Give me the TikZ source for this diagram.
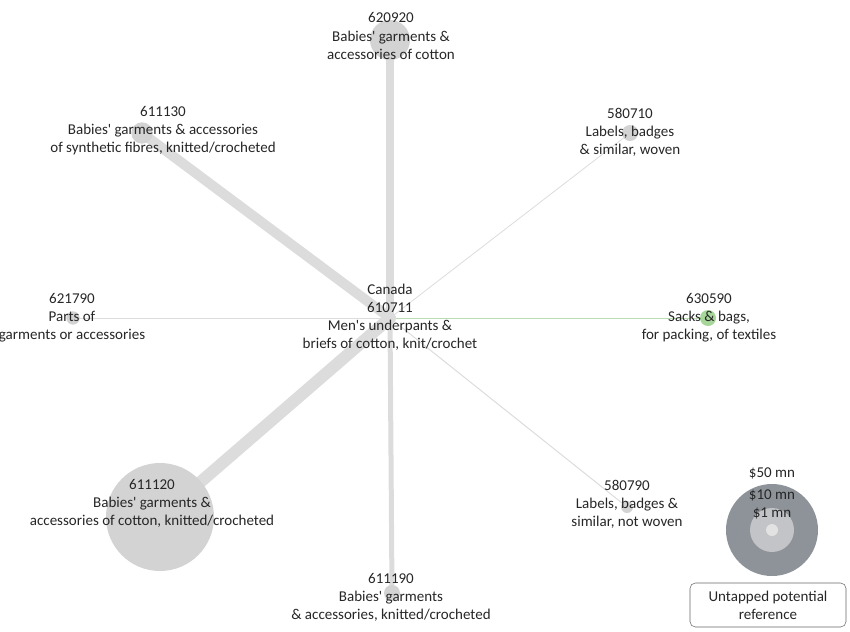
\documentclass[tikz,border=0pt]{standalone}
\usepackage{fontspec}
\setmainfont{Carlito}[Ligatures=TeXOff]
\usepackage{tikz}

\pgfdeclarelayer{back}
\pgfsetlayers{back,main}

\definecolor{spokegray}{HTML}{DCDCDC}
\definecolor{bubgray}{HTML}{D3D3D3}
\definecolor{spokegreen}{HTML}{B9DDB0}
\definecolor{bubgreen}{HTML}{A6D69A}
\definecolor{legdark}{HTML}{8E9399}
\definecolor{legmid}{HTML}{C2C4C7}
\definecolor{leglight}{HTML}{E2E2E2}

\tikzset{
  bub/.style={circle, fill=bubgray, inner sep=0pt},
  spoke/.style={draw=spokegray, line cap=round},
  lbl/.style={align=center, inner sep=0pt, text=black!85, font=\fontsize{11.3}{13.6}\selectfont},
}

\begin{document}
\begin{tikzpicture}[x=0.75bp, y=-0.75bp]
    \useasboundingbox (0,0) rectangle (850,632);

    % Bubbles
    \coordinate (hub) at (390,318);
    \node[bub, minimum size=30bp] (c620920) at (390,40) {};
    \node[bub, minimum size=16bp] (c611130) at (142,133) {};
    \node[bub, minimum size=12bp] (c580710) at (630,133) {};
    \node[bub, minimum size=10bp] (c621790) at (73,318) {};
    \node[bub, fill=bubgreen, minimum size=12bp] (c630590) at (708,318) {};
    \node[bub, minimum size=9bp] (c580790) at (627,507) {};
    \node[bub, minimum size=81bp] (c611120) at (160,517) {};
    \node[bub, minimum size=12bp] (c611190) at (392,593) {};

    % Spokes
    \begin{pgfonlayer}{back}
    \draw[spoke, line width=6bp] (hub) -- (c620920.center);
    \draw[spoke, line width=7.5bp] (hub) -- (c611130.center);
    \draw[spoke, line width=0.6bp] (hub) -- (c580710.center);
    \draw[spoke, line width=0.6bp] (hub) -- (c621790.center);
    \draw[spoke, draw=spokegreen, line width=0.75bp] (hub) -- (c630590.center);
    \draw[spoke, line width=0.75bp] (hub) -- (c580790.center);
    \draw[spoke, line width=9bp] (hub) -- (c611120.center);
    \draw[spoke, line width=3.75bp] (hub) -- (c611190.center);
    \end{pgfonlayer}

    % Labels
    \node[lbl] (hubtext) at (390,317) {Canada\\610711\\Men's underpants \&\\briefs of cotton, knit/crochet};
    \node[lbl] (t620920) at (391,36) {620920\\Babies' garments \&\\accessories of cotton};
    \node[lbl] (t611130) at (163,131) {611130\\Babies' garments \& accessories\\of synthetic fibres, knitted/crocheted};
    \node[lbl] (t580710) at (630,132) {580710\\Labels, badges\\\& similar, woven};
    \node[lbl] (t621790) at (72,318) {621790\\Parts of\\garments or accessories};
    \node[lbl] (t630590) at (709,318) {630590\\Sacks \& bags,\\for packing, of textiles};
    \node[lbl] (t580790) at (627,504) {580790\\Labels, badges \&\\similar, not woven};
    \node[lbl] (t611120) at (152,503) {611120\\Babies' garments \&\\accessories of cotton, knitted/crocheted};
    \node[lbl] (t611190) at (391,597) {611190\\Babies' garments\\\& accessories, knitted/crocheted};

    % Legend
    \node[circle, fill=legdark, inner sep=0pt, minimum size=69bp] (l50) at (772,530) {};
    \node[circle, fill=legmid, inner sep=0pt, minimum size=33bp] (l10) at (772,530) {};
    \node[circle, fill=leglight, inner sep=0pt, minimum size=9bp] (l1) at (772,530) {};
    \node[lbl] at (772,473) {\$50 mn};
    \node[lbl] at (772,495) {\$10 mn};
    \node[lbl] at (772,513) {\$1 mn};
    \node[lbl, draw=black!60, rounded corners=4bp, minimum width=117bp, minimum height=33bp] (legbox) at (768,605) {Untapped potential\\reference};
\end{tikzpicture}
\end{document}
